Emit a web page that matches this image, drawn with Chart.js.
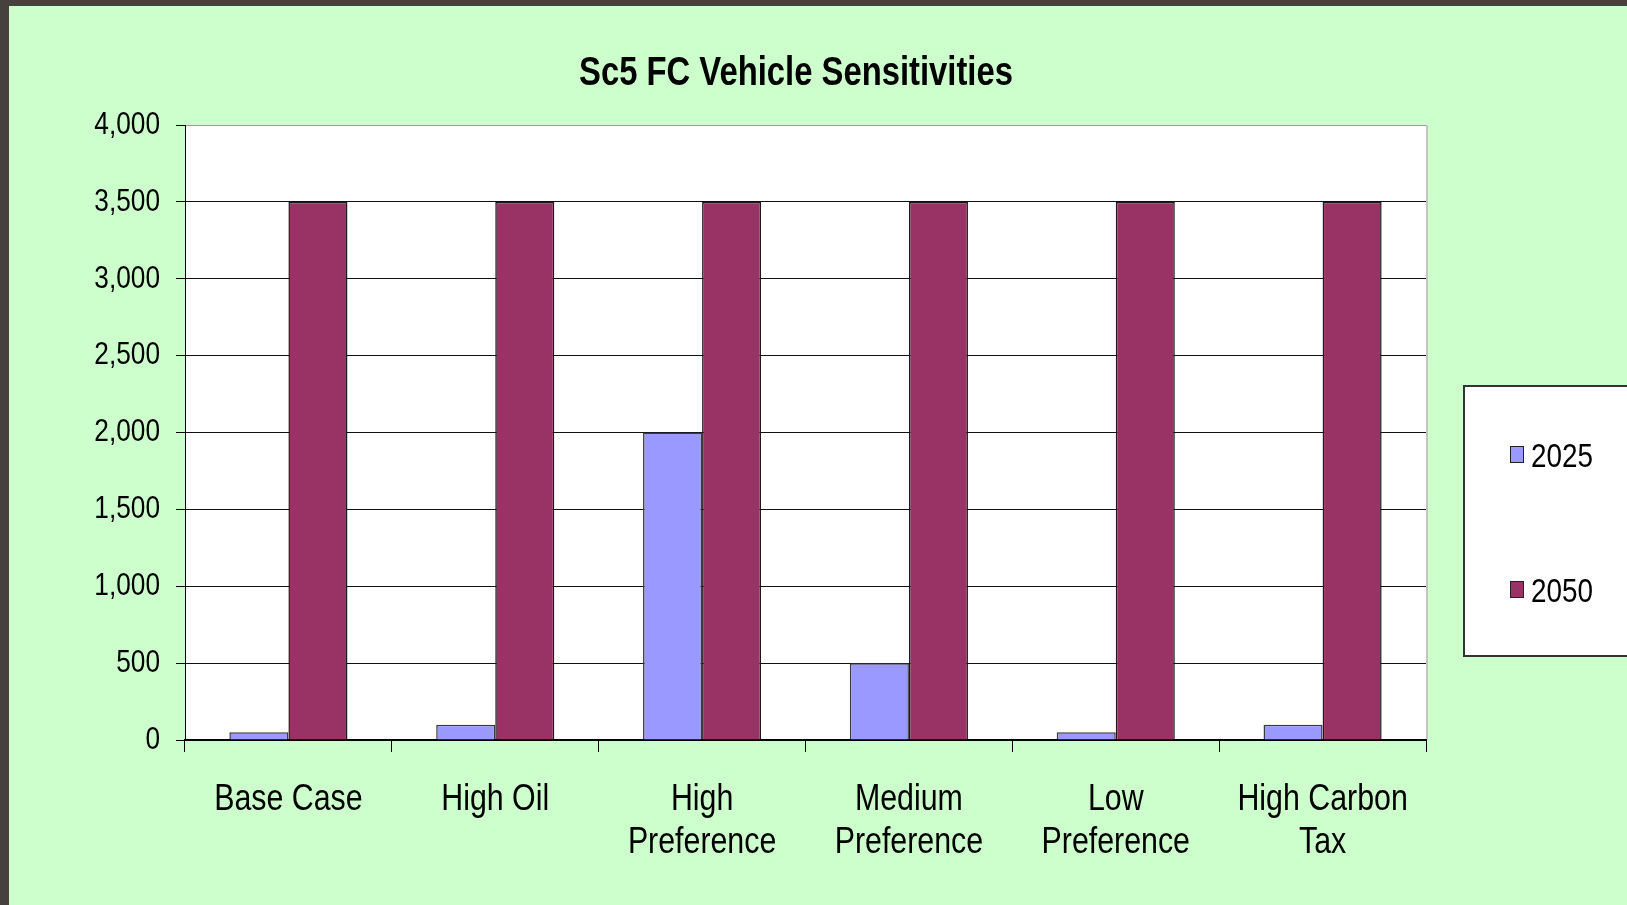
<!DOCTYPE html>
<html><head><meta charset="utf-8">
<script src="https://cdn.jsdelivr.net/npm/chart.js@4.4.1/dist/chart.umd.min.js"></script>
<style>html,body{margin:0;padding:0;background:#46413d;overflow:hidden}
canvas{display:block}</style>
</head><body>
<canvas id="c" width="1627" height="905"></canvas>
<script>
const chartTitle = "Sc5 FC Vehicle Sensitivities";
const categories = [["Base Case"], ["High Oil"], ["High", "Preference"], ["Medium", "Preference"], ["Low", "Preference"], ["High Carbon", "Tax"]];
const seriesNames = ["2025", "2050"];
const values2025 = [50, 100, 2000, 500, 50, 100];
const values2050 = [3500, 3500, 3500, 3500, 3500, 3500];
const yMin = 0, yMax = 4000, yStep = 500;

const FONT = '"Liberation Sans", Arial, sans-serif';
// emulate a narrow (condensed) face by compressing text horizontally around its anchor
const NARROW_X = 0.82;
const _fillText = CanvasRenderingContext2D.prototype.fillText;
CanvasRenderingContext2D.prototype.fillText = function (t, x, y) {
  this.save();
  this.translate(x, y);
  this.scale(NARROW_X, 1);
  _fillText.call(this, t, 0, 0);
  this.restore();
};

const framePlugin = {
  id: 'frame',
  beforeDraw(chart) {
    const ctx = chart.ctx, a = chart.chartArea;
    ctx.save();
    ctx.fillStyle = '#46413d';
    ctx.fillRect(0, 0, chart.width, chart.height);
    ctx.fillStyle = '#ccffcc';
    ctx.fillRect(9, 6, chart.width - 9, chart.height - 6);
    ctx.fillStyle = '#ffffff';
    ctx.fillRect(a.left, a.top, a.right - a.left, a.bottom - a.top);
    ctx.restore();
  },
  afterDraw(chart) {
    const ctx = chart.ctx, a = chart.chartArea;
    ctx.save();
    // right border of plot
    ctx.strokeStyle = '#c4c4c4';
    ctx.lineWidth = 2;
    ctx.beginPath();
    ctx.moveTo(a.right + 1, a.top);
    ctx.lineTo(a.right + 1, a.bottom - 1);
    ctx.stroke();
    // title
    ctx.fillStyle = '#000';
    ctx.font = 'bold 40px ' + FONT;
    ctx.textAlign = 'center';
    ctx.textBaseline = 'alphabetic';
    ctx.fillText(chartTitle, 796, 85);
    // legend
    ctx.fillStyle = '#ffffff';
    ctx.fillRect(1463, 385, 200, 272);
    ctx.strokeStyle = '#333333';
    ctx.lineWidth = 2;
    ctx.strokeRect(1464, 386, 200, 270);
    const ys = [446, 581];
    const bases = [467, 602];
    chart.data.datasets.forEach((ds, i) => {
      ctx.fillStyle = ds.backgroundColor;
      ctx.fillRect(1510, ys[i], 14, 17);
      ctx.strokeStyle = '#222';
      ctx.lineWidth = 1;
      ctx.strokeRect(1510.5, ys[i] + 0.5, 13, 16);
      ctx.fillStyle = '#000';
      ctx.font = '34px ' + FONT;
      ctx.textAlign = 'left';
      ctx.fillText(ds.label, 1531, bases[i]);
    });
    ctx.restore();
  }
};

new Chart(document.getElementById('c'), {
  type: 'bar',
  data: {
    labels: categories,
    datasets: [
      { label: seriesNames[0], data: values2025, backgroundColor: '#9999ff', borderColor: '#3a3a3a', borderWidth: 1.5 },
      { label: seriesNames[1], data: values2050, backgroundColor: '#993366', borderColor: '#1a1a1a', borderWidth: 1.5 }
    ]
  },
  options: {
    responsive: false,
    animation: false,
    devicePixelRatio: 1,
    layout: { padding: { top: 125, right: 201, bottom: 0, left: 0 } },
    datasets: { bar: { categoryPercentage: 0.571, barPercentage: 1.0 } },
    plugins: { legend: { display: false }, title: { display: false }, tooltip: { enabled: false } },
    scales: {
      x: {
        afterFit(s) { s.height = 165; },
        grid: { drawOnChartArea: false, drawTicks: true, tickLength: 12, color: '#000', tickColor: '#000', lineWidth: 1 },
        border: { display: true, color: '#000', width: 2 },
        ticks: { color: '#000', padding: 26, maxRotation: 0, autoSkip: false, font: { family: FONT, size: 37, lineHeight: 1.16 } }
      },
      y: {
        min: yMin, max: yMax,
        afterFit(s) { s.width = 185; },
        grid: {
          color: (c) => (c.tick && c.tick.value === yMax) ? '#9a9a9a' : '#111',
          tickColor: '#000', tickLength: 9, lineWidth: 1
        },
        border: { display: true, color: '#000', width: 1 },
        ticks: { stepSize: yStep, color: '#000', padding: 16, font: { family: FONT, size: 32 } }
      }
    }
  },
  plugins: [framePlugin]
});
</script>
</body></html>
